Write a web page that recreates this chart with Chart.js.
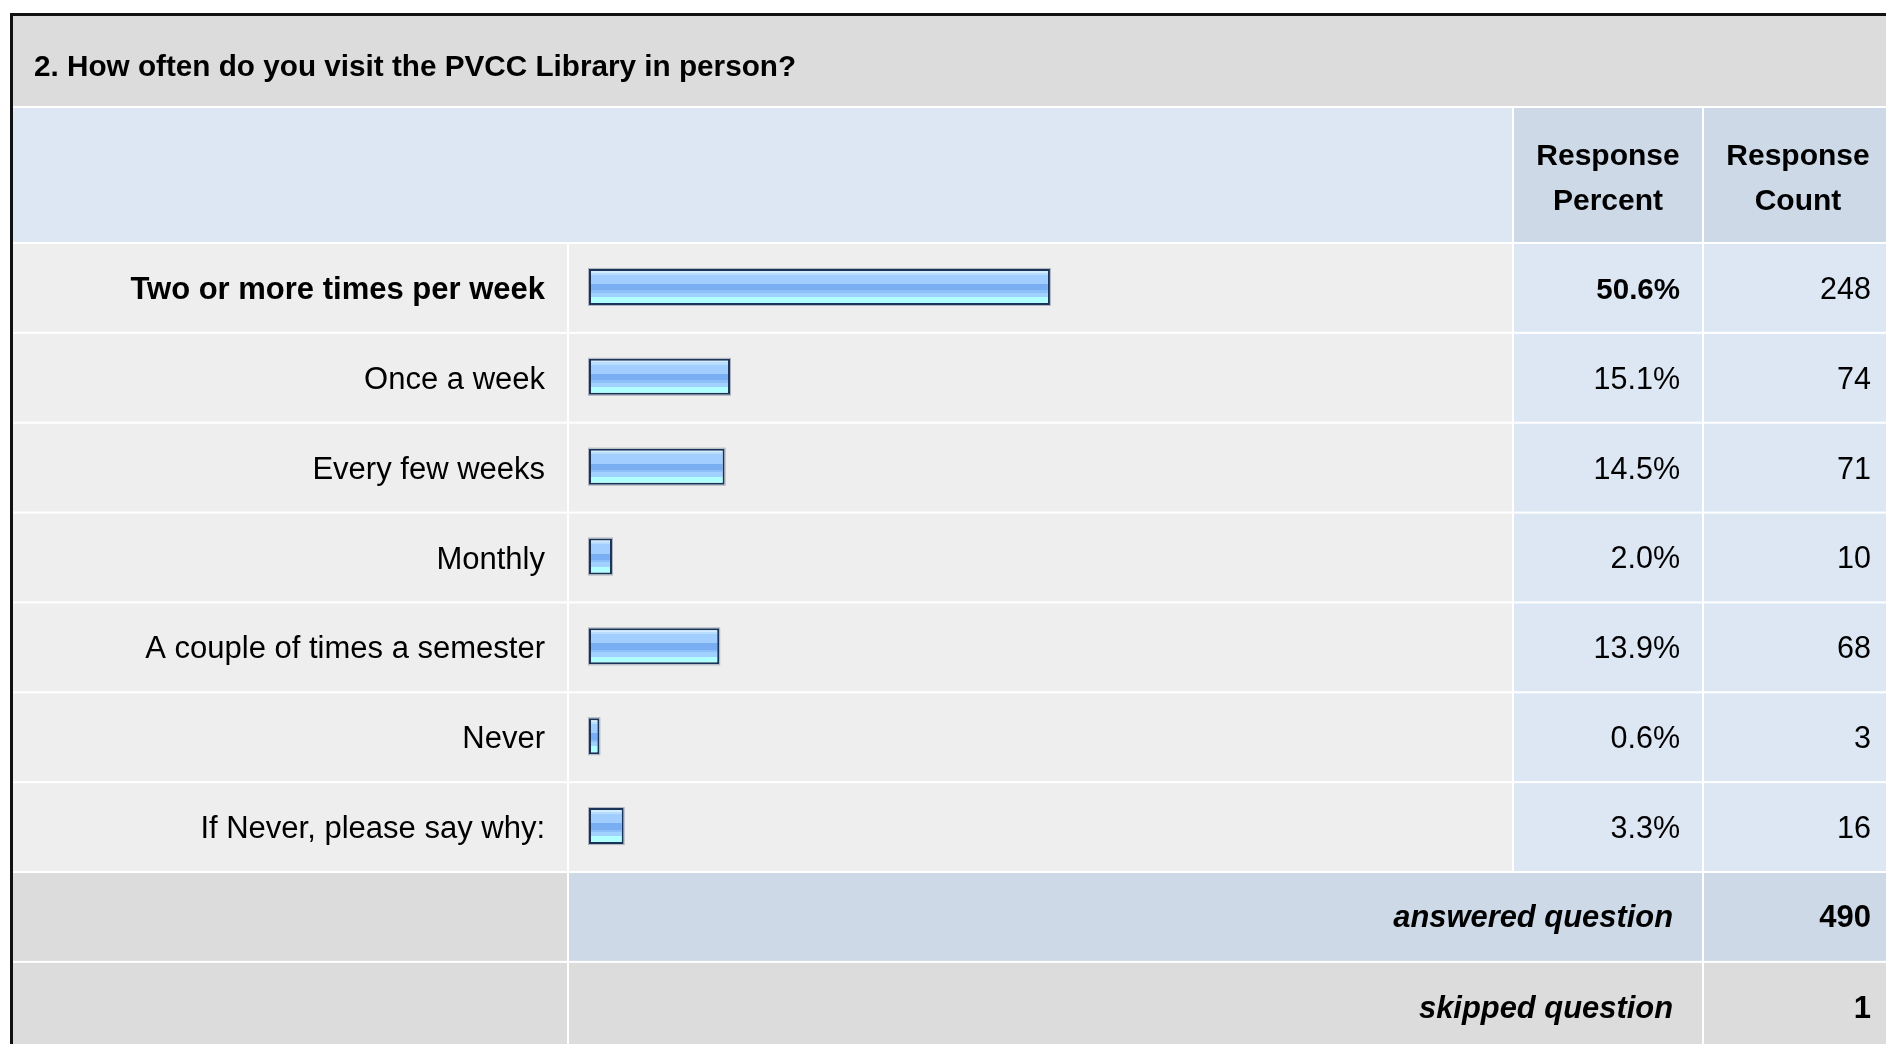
<!DOCTYPE html>
<html>
<head>
<meta charset="utf-8">
<title>How often do you visit the PVCC Library in person?</title>
<script src="https://cdn.jsdelivr.net/npm/chart.js@4.4.1/dist/chart.umd.min.js"></script>
<style>
  html, body { margin: 0; padding: 0; background: #fff; }
  canvas { display: block; }
</style>
</head>
<body>
<canvas id="surveyChart" width="1886" height="1044"></canvas>
<script>
const question = "2. How often do you visit the PVCC Library in person?";
const answerChoices = [
  "Two or more times per week",
  "Once a week",
  "Every few weeks",
  "Monthly",
  "A couple of times a semester",
  "Never",
  "If Never, please say why:"
];
const responsePercent = [50.6, 15.1, 14.5, 2.0, 13.9, 0.6, 3.3];
const responseCount = [248, 74, 71, 10, 68, 3, 16];
const percentHeader = ["Response", "Percent"];
const countHeader = ["Response", "Count"];
const answeredQuestion = 490;
const skippedQuestion = 1;

const FONT = '"Liberation Sans", Arial, Helvetica, sans-serif';
const BAR_BASE = -0.55;

// column edges of the survey table
const col = {
  left: 13,
  labelEnd: 567,
  barStart: 569,
  barEnd: 1512,
  pctStart: 1514,
  pctEnd: 1702,
  cntStart: 1704,
  right: 1886
};

const colors = {
  title: '#dcdcdc',
  header: '#dde7f4',
  headerDark: '#cdd9e7',
  row: '#eeeeee',
  rowBlue: '#dde7f4',
  footerBlue: '#cdd9e7',
  footerGray: '#dcdcdc'
};

// hard colour bands of the glossy bar, top to bottom
const bands = [
  [0.00, '#d2ebff'],
  [0.05, '#b9ddff'],
  [0.12, '#a1cdff'],
  [0.41, '#79aef3'],
  [0.61, '#8dbff8'],
  [0.68, '#a1d1ff'],
  [0.82, '#b2ffff']
];

function barGradient(context) {
  const chart = context.chart;
  const y = chart.scales.y;
  if (!chart.chartArea || !y || context.dataIndex === undefined) return '#a1cdff';
  const yc = y.getPixelForValue(context.dataIndex);
  const g = chart.ctx.createLinearGradient(0, yc - 16, 0, yc + 16);
  bands.forEach(([pos, c], i) => {
    const next = i + 1 < bands.length ? bands[i + 1][0] : 1;
    g.addColorStop(pos, c);
    g.addColorStop(Math.max(pos, next - 0.001), c);
  });
  return g;
}

function rowBounds(chart, i) {
  const y = chart.scales.y;
  const band = (chart.chartArea.bottom - chart.chartArea.top) / answerChoices.length;
  const top = y.getPixelForValue(0) - band / 2 + i * band;
  return { top, bottom: top + band, mid: top + band / 2 };
}

const tablePlugin = {
  id: 'surveyTable',
  beforeDraw(chart) {
    const ctx = chart.ctx;
    const W = chart.width, H = chart.height;
    ctx.save();
    ctx.fillStyle = '#ffffff';
    ctx.fillRect(0, 0, W, H);
    // outer frame
    ctx.fillStyle = '#111111';
    ctx.fillRect(10, 13, W - 10, 3);
    ctx.fillRect(10, 13, 3, H - 13);

    // title band
    ctx.fillStyle = colors.title;
    ctx.fillRect(col.left, 16, col.right - col.left, 90);

    // header row
    const hTop = 108, hBot = chart.chartArea.top;
    ctx.fillStyle = colors.header;
    ctx.fillRect(col.left, hTop, col.barEnd - col.left, hBot - hTop);
    ctx.fillStyle = colors.headerDark;
    ctx.fillRect(col.pctStart, hTop, col.pctEnd - col.pctStart, hBot - hTop);
    ctx.fillRect(col.cntStart, hTop, col.right - col.cntStart, hBot - hTop);

    // answer rows
    for (let i = 0; i < answerChoices.length; i++) {
      const r = rowBounds(chart, i);
      const t = r.top + 2, h = r.bottom - r.top - 2;
      ctx.fillStyle = colors.row;
      ctx.fillRect(col.left, t, col.labelEnd - col.left, h);
      ctx.fillRect(col.barStart, t, col.barEnd - col.barStart, h);
      ctx.fillStyle = colors.rowBlue;
      ctx.fillRect(col.pctStart, t, col.pctEnd - col.pctStart, h);
      ctx.fillRect(col.cntStart, t, col.right - col.cntStart, h);
    }

    // answered / skipped rows
    const a = rowBounds(chart, answerChoices.length);
    const s = rowBounds(chart, answerChoices.length + 1);
    ctx.fillStyle = colors.footerGray;
    ctx.fillRect(col.left, a.top + 2, col.labelEnd - col.left, a.bottom - a.top - 2);
    ctx.fillStyle = colors.footerBlue;
    ctx.fillRect(col.barStart, a.top + 2, col.pctEnd - col.barStart, a.bottom - a.top - 2);
    ctx.fillRect(col.cntStart, a.top + 2, col.right - col.cntStart, a.bottom - a.top - 2);
    ctx.fillStyle = colors.footerGray;
    ctx.fillRect(col.left, s.top + 2, col.labelEnd - col.left, s.bottom - s.top);
    ctx.fillRect(col.barStart, s.top + 2, col.pctEnd - col.barStart, s.bottom - s.top);
    ctx.fillRect(col.cntStart, s.top + 2, col.right - col.cntStart, s.bottom - s.top);
    ctx.restore();
  },
  afterDatasetsDraw(chart) {
    // faint grey halo round each bar
    const ctx = chart.ctx;
    ctx.save();
    ctx.strokeStyle = 'rgba(120,130,150,0.55)';
    ctx.lineWidth = 1;
    chart.getDatasetMeta(0).data.forEach(bar => {
      const p = bar.getProps(['x', 'y', 'base', 'height']);
      ctx.strokeRect(p.base - 0.5, p.y - p.height / 2 - 0.5, p.x - p.base + 1, p.height + 1);
    });
    ctx.restore();
  },
  afterDraw(chart) {
    const ctx = chart.ctx;
    ctx.save();
    ctx.fillStyle = '#000000';
    ctx.textBaseline = 'middle';

    ctx.textAlign = 'left';
    ctx.font = 'bold 29.7px ' + FONT;
    ctx.fillText(question, 34, 68);

    ctx.textAlign = 'center';
    ctx.font = 'bold 30px ' + FONT;
    const pctMid = (col.pctStart + col.pctEnd) / 2;
    const cntMid = 1798;
    ctx.fillText(percentHeader[0], pctMid, 157);
    ctx.fillText(percentHeader[1], pctMid, 202);
    ctx.fillText(countHeader[0], cntMid, 157);
    ctx.fillText(countHeader[1], cntMid, 202);

    const maxIdx = responsePercent.indexOf(Math.max(...responsePercent));
    ctx.textAlign = 'right';
    answerChoices.forEach((label, i) => {
      const r = rowBounds(chart, i);
      const ty = r.mid + 3.5;
      const bold = i === maxIdx;
      ctx.font = (bold ? 'bold 31px ' : '31px ') + FONT;
      ctx.fillText(label, 545, ty);
      ctx.font = (bold ? 'bold 29.5px ' : '30.5px ') + FONT;
      ctx.fillText(responsePercent[i].toFixed(1) + '%', 1680, ty);
      ctx.font = '30.5px ' + FONT;
      ctx.fillText(String(responseCount[i]), 1871, ty);
    });

    const a = rowBounds(chart, answerChoices.length);
    const s = rowBounds(chart, answerChoices.length + 1);
    ctx.font = 'italic bold 30.9px ' + FONT;
    ctx.fillText('answered question', 1673, a.mid + 3);
    ctx.fillText('skipped question', 1673, s.mid + 4);
    ctx.font = 'bold 31px ' + FONT;
    ctx.fillText(String(answeredQuestion), 1871, a.mid + 3);
    ctx.fillText(String(skippedQuestion), 1871, s.mid + 4);
    ctx.restore();
  }
};

new Chart(document.getElementById('surveyChart'), {
  type: 'bar',
  data: {
    labels: answerChoices,
    datasets: [{
      data: responsePercent,
      base: BAR_BASE,
      barThickness: 36,
      borderWidth: 2,
      borderColor: '#1a3358',
      borderSkipped: false,
      inflateAmount: 0,
      backgroundColor: barGradient
    }]
  },
  options: {
    indexAxis: 'y',
    responsive: false,
    animation: false,
    devicePixelRatio: 1,
    layout: { padding: { left: 589, right: 391, top: 242, bottom: 173 } },
    plugins: {
      legend: { display: false },
      tooltip: { enabled: false },
      title: { display: false }
    },
    scales: {
      x: { display: false, min: BAR_BASE, max: 100 },
      y: { display: false, offset: true }
    }
  },
  plugins: [tablePlugin]
});
</script>
</body>
</html>
